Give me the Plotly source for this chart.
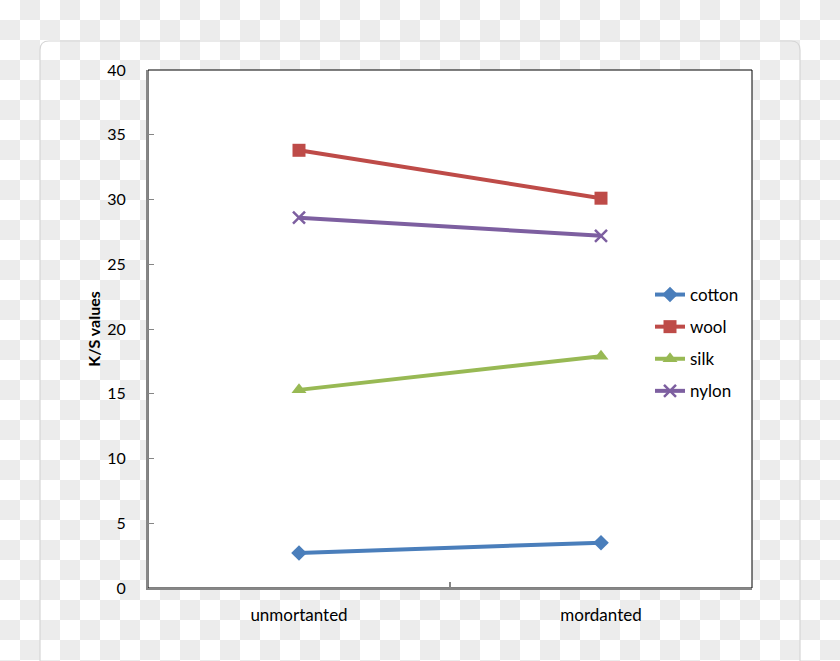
import plotly.graph_objects as go

categories = ["unmortanted", "mordanted"]
cotton = [2.7, 3.5]
wool = [33.8, 30.1]
silk = [15.3, 17.9]
nylon = [28.6, 27.2]
y_ticks = [0, 5, 10, 15, 20, 25, 30, 35, 40]

W, H = 840, 661
L, R, T, B = 148, 752, 70, 588

def px(X):
    return (X - L) / (R - L)

def py(Y):
    return (B - Y) / (B - T)

# checkerboard background path
cell = 20
parts = []
for j in range(0, (H // cell) + 1):
    for i in range(0, (W // cell) + 1):
        if (i + j) % 2 == 1:
            x0, x1 = i * cell, (i + 1) * cell
            y0, y1 = j * cell, (j + 1) * cell
            parts.append(f"M{px(x0):.5f},{py(y0):.5f}H{px(x1):.5f}V{py(y1):.5f}H{px(x0):.5f}Z")
checker = "".join(parts)

# rounded border path
bx0, by0, bx1, by1, rr = 40, 41, 800, 720, 9
border = (f"M{px(bx0):.5f},{py(by1):.5f}V{py(by0+rr):.5f}"
          f"Q{px(bx0):.5f},{py(by0):.5f} {px(bx0+rr):.5f},{py(by0):.5f}"
          f"H{px(bx1-rr):.5f}"
          f"Q{px(bx1):.5f},{py(by0):.5f} {px(bx1):.5f},{py(by0+rr):.5f}"
          f"V{py(by1):.5f}")

series = [
    ("cotton", cotton, "#4a7ebb", "diamond", 12, 0),
    ("wool", wool, "#be4b48", "square", 13, 0),
    ("silk", silk, "#98b954", "triangle-up", 13, 0),
    ("nylon", nylon, "#7d5fa0", "x-thin", 12, 2.5),
]

fig = go.Figure()
for name, vals, col, sym, sz, lw in series:
    marker = dict(symbol=sym, size=sz, color=col)
    if sym == "x-thin":
        marker["line"] = dict(color=col, width=lw)
    fig.add_trace(go.Scatter(
        x=categories, y=vals, name=name, mode="lines+markers",
        line=dict(color=col, width=4), marker=marker, legendgroup=name,
    ))

font = "Lato, 'Open Sans', sans-serif"
fig.update_layout(
    width=W, height=H,
    margin=dict(l=L, r=W - R, t=T, b=H - B, pad=0),
    paper_bgcolor="white", plot_bgcolor="white",
    font=dict(family=font, size=16, color="black"),
    showlegend=True,
    legend=dict(x=px(650), y=py(277), xanchor="left", yanchor="top",
                bgcolor="rgba(0,0,0,0)", font=dict(size=17, family=font),
                traceorder="grouped", tracegroupgap=7,
                itemwidth=30),
    shapes=[
        dict(type="path", path=checker, xref="paper", yref="paper",
             fillcolor="#ececec", line=dict(width=0), layer="below"),
        dict(type="path", path=border, xref="paper", yref="paper",
             line=dict(color="#d6d6d6", width=1.2), layer="below"),
        dict(type="rect", x0=0, x1=1, y0=0, y1=1, xref="paper", yref="paper",
             fillcolor="white", line=dict(color="black", width=1), layer="below"),
    ],
    xaxis=dict(type="category", range=[-0.5, 1.5], showgrid=False, zeroline=False,
               showline=True, linecolor="#868686", linewidth=2,
               ticks="inside", tickson="boundaries", ticklen=6, tickwidth=2,
               tickcolor="#868686", ticklabelstandoff=11,
               tickfont=dict(size=17, family=font)),
    yaxis=dict(range=[0, 40], tickvals=y_ticks, showgrid=False, zeroline=False,
               showline=True, linecolor="#868686", linewidth=2,
               ticks="inside", ticklen=6, tickwidth=1, tickcolor="#868686",
               ticklabelstandoff=17,
               tickfont=dict(size=16, family=font),
               title=dict(text="<b>K/S values</b>", font=dict(size=16, family=font),
                          standoff=3)),
)

fig.write_html("out.html")
